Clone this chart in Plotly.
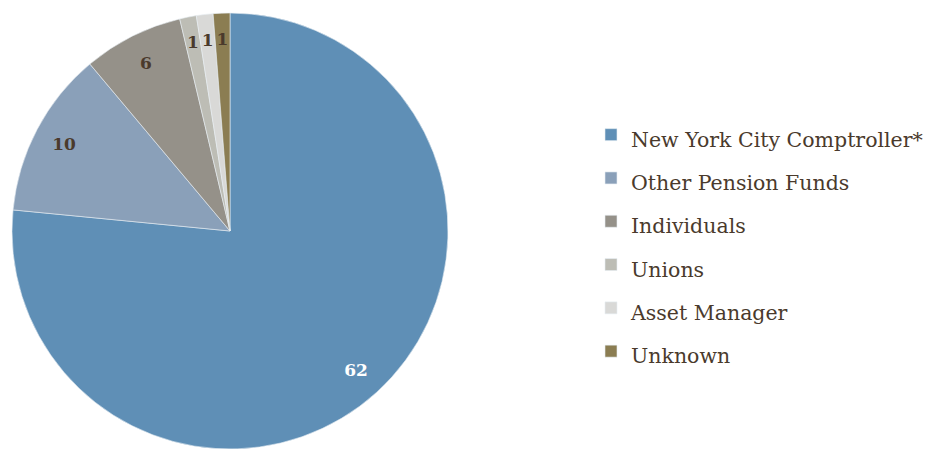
import plotly.graph_objects as go

labels = ["New York City Comptroller*", "Other Pension Funds", "Individuals", "Unions", "Asset Manager", "Unknown"]
values = [62, 10, 6, 1, 1, 1]
colors = ["#5f8fb6", "#8aa0b9", "#959189", "#bdbdb5", "#d9d9d7", "#8b7d52"]
text_colors = ["#ffffff", "#4a3a2c", "#4a3a2c", "#4a3a2c", "#4a3a2c", "#4a3a2c"]

legend_labels = ['<span style="font-size:20.5px">%s</span>' % s for s in labels]
dom = dict(x=[12/930, 448/930], y=[0, 1])
ring_dom = dict(x=[30/930, 430/930], y=[0.0413, 0.9587])

# the three thin slices get their labels from a narrower ring
thin = [i >= 3 for i in range(len(values))]
text_wide = ["" if t else str(v) for v, t in zip(values, thin)]
text_thin = [str(v) if t else "" for v, t in zip(values, thin)]

fig = go.Figure()
fig.add_trace(go.Pie(
    labels=legend_labels,
    values=values,
    sort=False,
    direction="clockwise",
    rotation=0,
    marker=dict(colors=colors, line=dict(color="#e8eef4", width=0.6)),
    textinfo="none",
    hoverinfo="skip",
    domain=dom,
))

def label_ring(text, hole, domain):
    return go.Pie(
        labels=legend_labels,
        values=values,
        sort=False,
        direction="clockwise",
        rotation=0,
        hole=hole,
        marker=dict(colors=["rgba(0,0,0,0)"] * len(values), line=dict(width=0)),
        text=text,
        textinfo="text",
        textposition="inside",
        insidetextorientation="horizontal",
        textfont=dict(family="DejaVu Serif", size=17, color=text_colors, weight="bold"),
        showlegend=False,
        hoverinfo="skip",
        domain=domain,
    )

fig.add_trace(label_ring(text_wide, 0.72, dom))
fig.add_trace(label_ring(text_thin, 0.87, ring_dom))

fig.update_layout(
    width=930, height=449,
    margin=dict(l=0, r=0, t=13, b=0),
    paper_bgcolor="white",
    plot_bgcolor="white",
    showlegend=True,
    uniformtext=dict(minsize=17, mode="show"),
    legend=dict(
        x=591/930, y=(449 - 243) / 436, xanchor="left", yanchor="middle",
        font=dict(family="DejaVu Serif", size=31, color="#4a3a2c"),
        itemwidth=30,
    ),
)

fig.write_html("out.html")
